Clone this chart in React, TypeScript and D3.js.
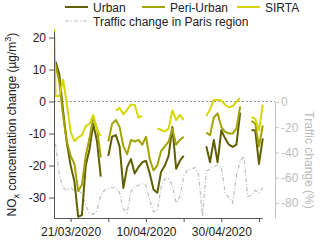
import React, { useEffect, useRef } from 'react';
import * as d3 from 'd3';

// daily values starting 16/03/2020, null = no data
const startDate = Date.UTC(2020, 2, 16);

const urban = [
  null,
  12.5, 8.5, -3, -13, -20, -25, -36, -35.5, -20, -15, -7, -12.5, -23.5,
  null,
  -17, -11, -10.5, -14, -27, -20.5, -18, -22.5, -20.5, -19, -18.5, -22.5, -27.5, -28.5, -22, -20, -17, -8, -21, -18.5, -17,
  null, null, null, null, null,
  -14, -19, -12, -19, -9, -11.5, -13.5, -14.2, -13.5, -3.5,
  null, null,
  -9, -9, -19.5, -11.5
];

const periUrban = [
  null,
  11.5, 6, -4.5, -12.5, -17, -19.5, -28, -26, -17, -11.5, -5, -8.5, -17.5,
  null,
  -12.5, -7, -5.8, -8, -14, -16.5, -12, -12.5, -12, -13.5, -11, -18, -21.5, -20, -15.5, -14, -12.5, -8.5, -13.5, -12, -11,
  null, null, null, null, null,
  -9.7, -10.5, -5, -3.7, -8, -9.5, -10, -10, -8.5, -1.5,
  null, null,
  -6, -7, -14, -7.5
];

const sirta = [
  58,
  1.7, 1.7, 6.8, -1, -9.5, -12.4, -11.2, -10.5, -7.7, -7, -4.2, -8.8, -10.8,
  null, null, null,
  -2.9, -2, -4, -2.5, -1, -1, -5, -4.5,
  null, null, null,
  -8.4, -8.9, -9.4, -8.4, -2.8, -5.8, -4.2, -5.8,
  null, null, null, null, null,
  -4.5, -2.5, 0.5, 0.5, 0.3, -1, -1.8, -1.5, 0, 1,
  null, null,
  -4.8, -5.5, -9, -1
];

const traffic = [
  null,
  -33, -58, -68, -70, -68, -70, -70, -73, -82, -88, -89, -86, -74,
  -70, -68.5, -68, -68, -72, -85, -88, -71, -67, -66, -65, -66, -78, -87, -86,
  -68, -61, -61, -66, -80, -75, -59, -54, -53, -52, -58, -91,
  -55, -53, -51.5, -50, -52, -72, -76, -80, -58, -47, -43, -75, -74, -70, -72, -68
];

const leftTicks = [20, 10, 0, -10, -20, -30];
const rightTicks = [0, -20, -40, -60, -80];
const dateTicks = ['21/03/2020', '31/03/2020', '10/04/2020', '20/04/2020', '30/04/2020', '10/05/2020'];
const labelledTicks = ['21/03/2020', '10/04/2020', '30/04/2020'];

const series = [
  { name: 'Urban', values: urban, color: '#5f5f00' },
  { name: 'Peri-Urban', values: periUrban, color: '#a3a300' },
  { name: 'SIRTA', values: sirta, color: '#d6d600' }
];

const parseTick = (s: string) => {
  const [d, m, y] = s.split('/').map(Number);
  return new Date(Date.UTC(y, m - 1, d));
};

const App: React.FC = () => {
  const svgRef = useRef<SVGSVGElement>(null);

  useEffect(() => {
    if (!svgRef.current) return;
    const width = 320;
    const height = 241;
    const font = '"Liberation Sans", Arial, sans-serif';

    const svg = d3.select(svgRef.current);
    svg.selectAll('*').remove();
    svg.attr('width', width).attr('height', height).style('font-family', font);

    const dayMs = 24 * 3600 * 1000;
    const dateOf = (i: number) => new Date(startDate + i * dayMs);

    // plot box
    const left = 54, right = 262, top = 31.1, bottom = 218, rightAxisX = 275;

    const x = d3.scaleUtc()
      .domain([new Date(Date.UTC(2020, 2, 16, 14)), new Date(Date.UTC(2020, 4, 10, 19))])
      .range([left, right]);
    const y = d3.scaleLinear().domain([-36.4, 22]).range([bottom, top]);
    const y2 = d3.scaleLinear().domain([-92, 0]).range([bottom, 102]);

    svg.append('defs').append('clipPath').attr('id', 'plotclip')
      .append('rect').attr('x', left).attr('y', top - 2).attr('width', rightAxisX - left).attr('height', bottom - top + 3);

    // zero reference
    svg.append('line')
      .attr('x1', left).attr('x2', rightAxisX)
      .attr('y1', y(0)).attr('y2', y(0))
      .attr('stroke', '#999').attr('stroke-width', 1.2).attr('stroke-dasharray', '2,2');

    const plot = svg.append('g').attr('clip-path', 'url(#plotclip)');

    // traffic (right axis)
    const trafficLine = d3.line<number | null>()
      .defined(d => d != null)
      .x((_, i) => x(dateOf(i)))
      .y(d => y2(d as number));
    plot.append('path')
      .attr('d', trafficLine(traffic))
      .attr('fill', 'none')
      .attr('stroke', '#bdbdbd')
      .attr('stroke-width', 1.2)
      .attr('stroke-dasharray', '4,2,1,2');

    const line = d3.line<number | null>()
      .defined(d => d != null)
      .x((_, i) => x(dateOf(i)))
      .y(d => y(d as number));

    series.forEach(s => {
      plot.append('path')
        .attr('d', line(s.values))
        .attr('fill', 'none')
        .attr('stroke', s.color)
        .attr('stroke-width', 2)
        .attr('stroke-linejoin', 'round');
    });

    // left axis
    const gl = svg.append('g')
      .attr('transform', `translate(${left},0)`)
      .call(d3.axisLeft(y).tickValues(leftTicks).tickSize(5).tickSizeOuter(0).tickFormat(d => String(d)));
    gl.select('.domain').attr('stroke', '#555');
    gl.selectAll('.tick line').attr('stroke', '#555');
    gl.selectAll('.tick text').attr('fill', '#222').style('font-size', '12px').style('font-family', font).attr('x', -8);

    // bottom axis
    const gb = svg.append('g')
      .attr('transform', `translate(0,${bottom})`)
      .call(d3.axisBottom(x)
        .tickValues(dateTicks.map(parseTick))
        .tickSize(4).tickSizeOuter(0)
        .tickFormat(d => {
          const s = d3.utcFormat('%d/%m/%Y')(d as Date);
          return labelledTicks.includes(s) ? s : '';
        }));
    gb.select('.domain').attr('stroke', '#555');
    gb.selectAll('.tick line').attr('stroke', '#555');
    gb.selectAll('.tick text').attr('fill', '#222').style('font-size', '12px').style('font-family', font).attr('y', 9);

    // right axis
    const gr = svg.append('g')
      .attr('transform', `translate(${rightAxisX},0)`)
      .call(d3.axisRight(y2).tickValues(rightTicks).tickSize(4).tickSizeOuter(0).tickFormat(d => String(d)));
    gr.select('.domain').attr('stroke', '#c4c4c4');
    gr.selectAll('.tick line').attr('stroke', '#c4c4c4');
    gr.selectAll('.tick text').attr('fill', '#bcbcbc').style('font-size', '12px').style('font-family', font).attr('x', 6);

    // axis titles
    const yl = svg.append('text')
      .attr('transform', `translate(16,${(top + bottom) / 2}) rotate(-90)`)
      .attr('text-anchor', 'middle')
      .attr('fill', '#222')
      .style('font-size', '12px');
    yl.append('tspan').text('NO');
    yl.append('tspan').text('x').attr('dy', 3).style('font-size', '9px');
    yl.append('tspan').text(' concentration change (µg/m').attr('dy', -3);
    yl.append('tspan').text('3').attr('dy', -5).style('font-size', '9px');
    yl.append('tspan').text(')').attr('dy', 5);

    svg.append('text')
      .attr('transform', `translate(305,${(102 + bottom) / 2}) rotate(90)`)
      .attr('text-anchor', 'middle')
      .attr('fill', '#bcbcbc')
      .style('font-size', '12px')
      .text('Traffic change (%)');

    // legend
    const legendItems = [
      { label: 'Urban', color: series[0].color, x: 65, y: 7, dash: null },
      { label: 'Peri-Urban', color: series[1].color, x: 142, y: 7, dash: null },
      { label: 'SIRTA', color: series[2].color, x: 237, y: 7, dash: null },
      { label: 'Traffic change in Paris region', color: '#bdbdbd', x: 65, y: 21, dash: '4,2,1,2' }
    ];
    const lg = svg.append('g');
    legendItems.forEach(it => {
      const ln = lg.append('line')
        .attr('x1', it.x).attr('x2', it.x + 23)
        .attr('y1', it.y).attr('y2', it.y)
        .attr('stroke', it.color)
        .attr('stroke-width', it.dash ? 1.2 : 2);
      if (it.dash) ln.attr('stroke-dasharray', it.dash);
      lg.append('text')
        .attr('x', it.x + 28).attr('y', it.y + 4.5)
        .attr('fill', '#222')
        .style('font-size', '12px')
        .text(it.label);
    });
  }, []);

  return (
    <svg ref={svgRef} style={{ position: 'absolute', left: 0, top: 0 }}></svg>
  );
};

export default App;
